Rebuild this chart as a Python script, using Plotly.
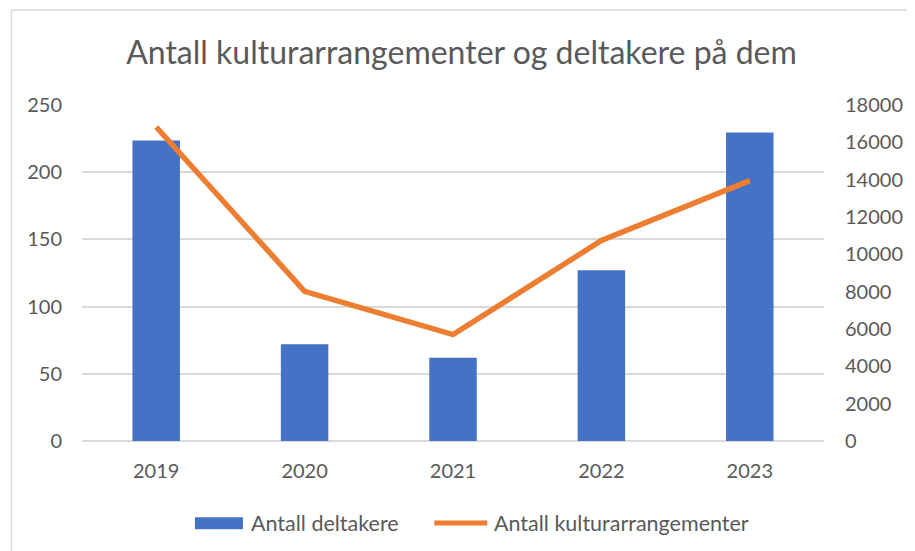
import plotly.graph_objects as go

years = ["2019", "2020", "2021", "2022", "2023"]
deltakere = [223.5, 72, 62, 127, 229.5]
arrangementer = [16820, 8020, 5700, 10740, 13950]

left_ticks = [0, 50, 100, 150, 200, 250]
right_ticks = [0, 2000, 4000, 6000, 8000, 10000, 12000, 14000, 16000, 18000]

FONT = "Lato, Open Sans, sans-serif"
GREY = "#595959"
BLUE = "#4472C4"
ORANGE = "#ED7D31"

fig = go.Figure()
fig.add_trace(go.Bar(
    x=years, y=deltakere, name="Antall deltakere",
    marker=dict(color=BLUE, line=dict(width=0)),
    yaxis="y", width=0.32,
))
fig.add_trace(go.Scatter(
    x=years, y=arrangementer, name="Antall kulturarrangementer",
    mode="lines", line=dict(color=ORANGE, width=5.5),
    yaxis="y2",
))

L, R, T, B = 74, 86, 97, 110
W, H = 907, 543
PW, PH = W - L - R, H - T - B


def px(xf):
    return (xf - L) / PW


def py(yf):
    return (H - B - yf) / PH


LEG_Y = py(515)
fig.update_layout(
    width=W, height=H,
    margin=dict(l=L, r=R, t=T, b=B),
    paper_bgcolor="white", plot_bgcolor="white",
    font=dict(family=FONT, color=GREY, size=20),
    showlegend=False,
    title=dict(text="Antall kulturarrangementer og deltakere på dem",
               x=0.5, xanchor="center", y=0.918, yanchor="middle",
               font=dict(size=32, color=GREY, family=FONT)),
    xaxis=dict(type="category", showgrid=False, showline=False, ticks="",
               tickfont=dict(size=20, color=GREY), ticklabelstandoff=16),
    yaxis=dict(range=[0, 250], tickvals=left_ticks, showgrid=True,
               gridcolor="#D9D9D9", gridwidth=1.5, zeroline=True,
               zerolinecolor="#D9D9D9", zerolinewidth=1.5,
               tickfont=dict(size=20, color=GREY), ticklabelstandoff=19),
    yaxis2=dict(range=[0, 18000], tickvals=right_ticks,
                ticktext=[str(v) for v in right_ticks], overlaying="y",
                side="right", showgrid=False, zeroline=False,
                tickfont=dict(size=20, color=GREY), ticklabelstandoff=20),
    bargap=0.68,
    shapes=[
        dict(type="rect", xref="paper", yref="paper",
             x0=px(3), x1=1.3, y0=-0.7, y1=py(2),
             line=dict(color="#D9D9D9", width=1.5), fillcolor="rgba(0,0,0,0)",
             layer="below"),
        dict(type="rect", xref="paper", yref="paper",
             x0=px(187.7), x1=px(236), y0=py(521.3), y1=py(509.3),
             line=dict(width=0), fillcolor=BLUE),
        dict(type="line", xref="paper", yref="paper",
             x0=px(428.7), x1=px(482), y0=LEG_Y, y1=LEG_Y,
             line=dict(color=ORANGE, width=5)),
    ],
    annotations=[
        dict(text="Antall deltakere", xref="paper", yref="paper",
             x=px(242), y=LEG_Y, xanchor="left", yanchor="middle",
             showarrow=False, font=dict(size=21.5, color=GREY)),
        dict(text="Antall kulturarrangementer", xref="paper", yref="paper",
             x=px(487), y=LEG_Y, xanchor="left", yanchor="middle",
             showarrow=False, font=dict(size=21.5, color=GREY)),
    ],
)

fig.write_html("out.html")
